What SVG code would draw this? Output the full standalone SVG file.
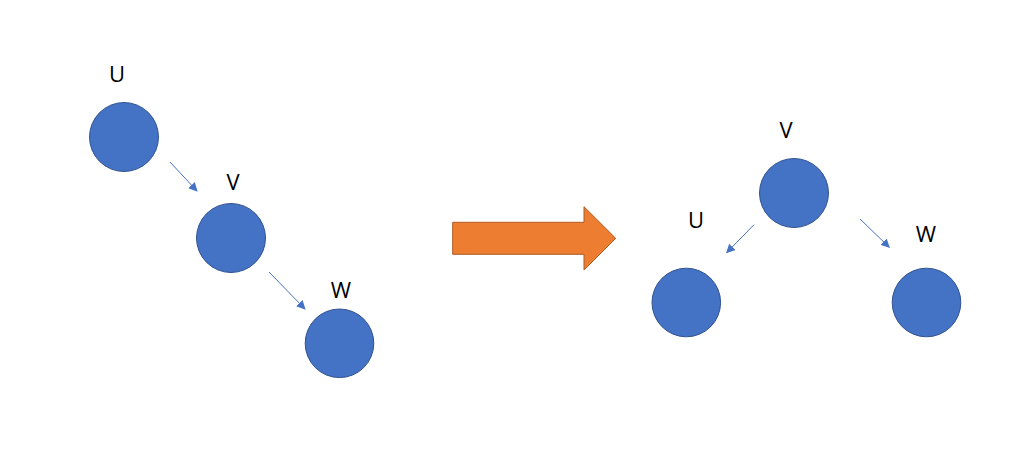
<svg xmlns="http://www.w3.org/2000/svg" width="1018" height="460" viewBox="0 0 1018 460">
<style>
.node circle{fill:#4472C4;stroke:#2F528F;stroke-width:1}
.lbl{font-family:"Open Sans","Noto Sans",sans-serif;font-size:22px;font-weight:400;fill:#000;text-anchor:middle}
.edge{stroke:#4472C4;stroke-width:1;fill:none;marker-end:url(#ah)}
</style>
<defs>
<marker id="ah" viewBox="0 0 10 10" refX="9" refY="5" markerWidth="9" markerHeight="9" markerUnits="userSpaceOnUse" orient="auto">
<path d="M0,0 L10,5 L0,10 z" fill="#4472C4"/>
</marker>
</defs>
<rect width="1018" height="460" fill="#fff"/>
<g id="left-U" class="node"><circle cx="124" cy="137" r="34.5"/><text class="lbl" x="117" y="81.5">U</text></g>
<g id="left-V" class="node"><circle cx="231" cy="238" r="34.5"/><text class="lbl" x="233" y="189.5">V</text></g>
<g id="left-W" class="node"><circle cx="339.5" cy="343.3" r="34.3"/><text class="lbl" x="341" y="298">W</text></g>
<g id="right-V" class="node"><circle cx="794" cy="193" r="34.5"/><text class="lbl" x="786" y="137.5">V</text></g>
<g id="right-U" class="node"><circle cx="686.3" cy="302.5" r="34.3"/><text class="lbl" x="696" y="227.5">U</text></g>
<g id="right-W" class="node"><circle cx="926.5" cy="302.5" r="34.3"/><text class="lbl" x="926" y="241.5">W</text></g>
<g id="transform-arrow"><path d="M452.7,222.3 H584 V206.7 L615.7,238.3 L584,270 V254.3 H452.7 Z" fill="#ED7D31" stroke="#AE5A21" stroke-width="1"/></g>
<g id="connectors">
<line class="edge" x1="170" y1="162" x2="197" y2="191"/>
<line class="edge" x1="269" y1="272" x2="305" y2="309"/>
<line class="edge" x1="754" y1="224.7" x2="726.7" y2="252.7"/>
<line class="edge" x1="860" y1="219" x2="889.3" y2="247.3"/>
</g>
</svg>
